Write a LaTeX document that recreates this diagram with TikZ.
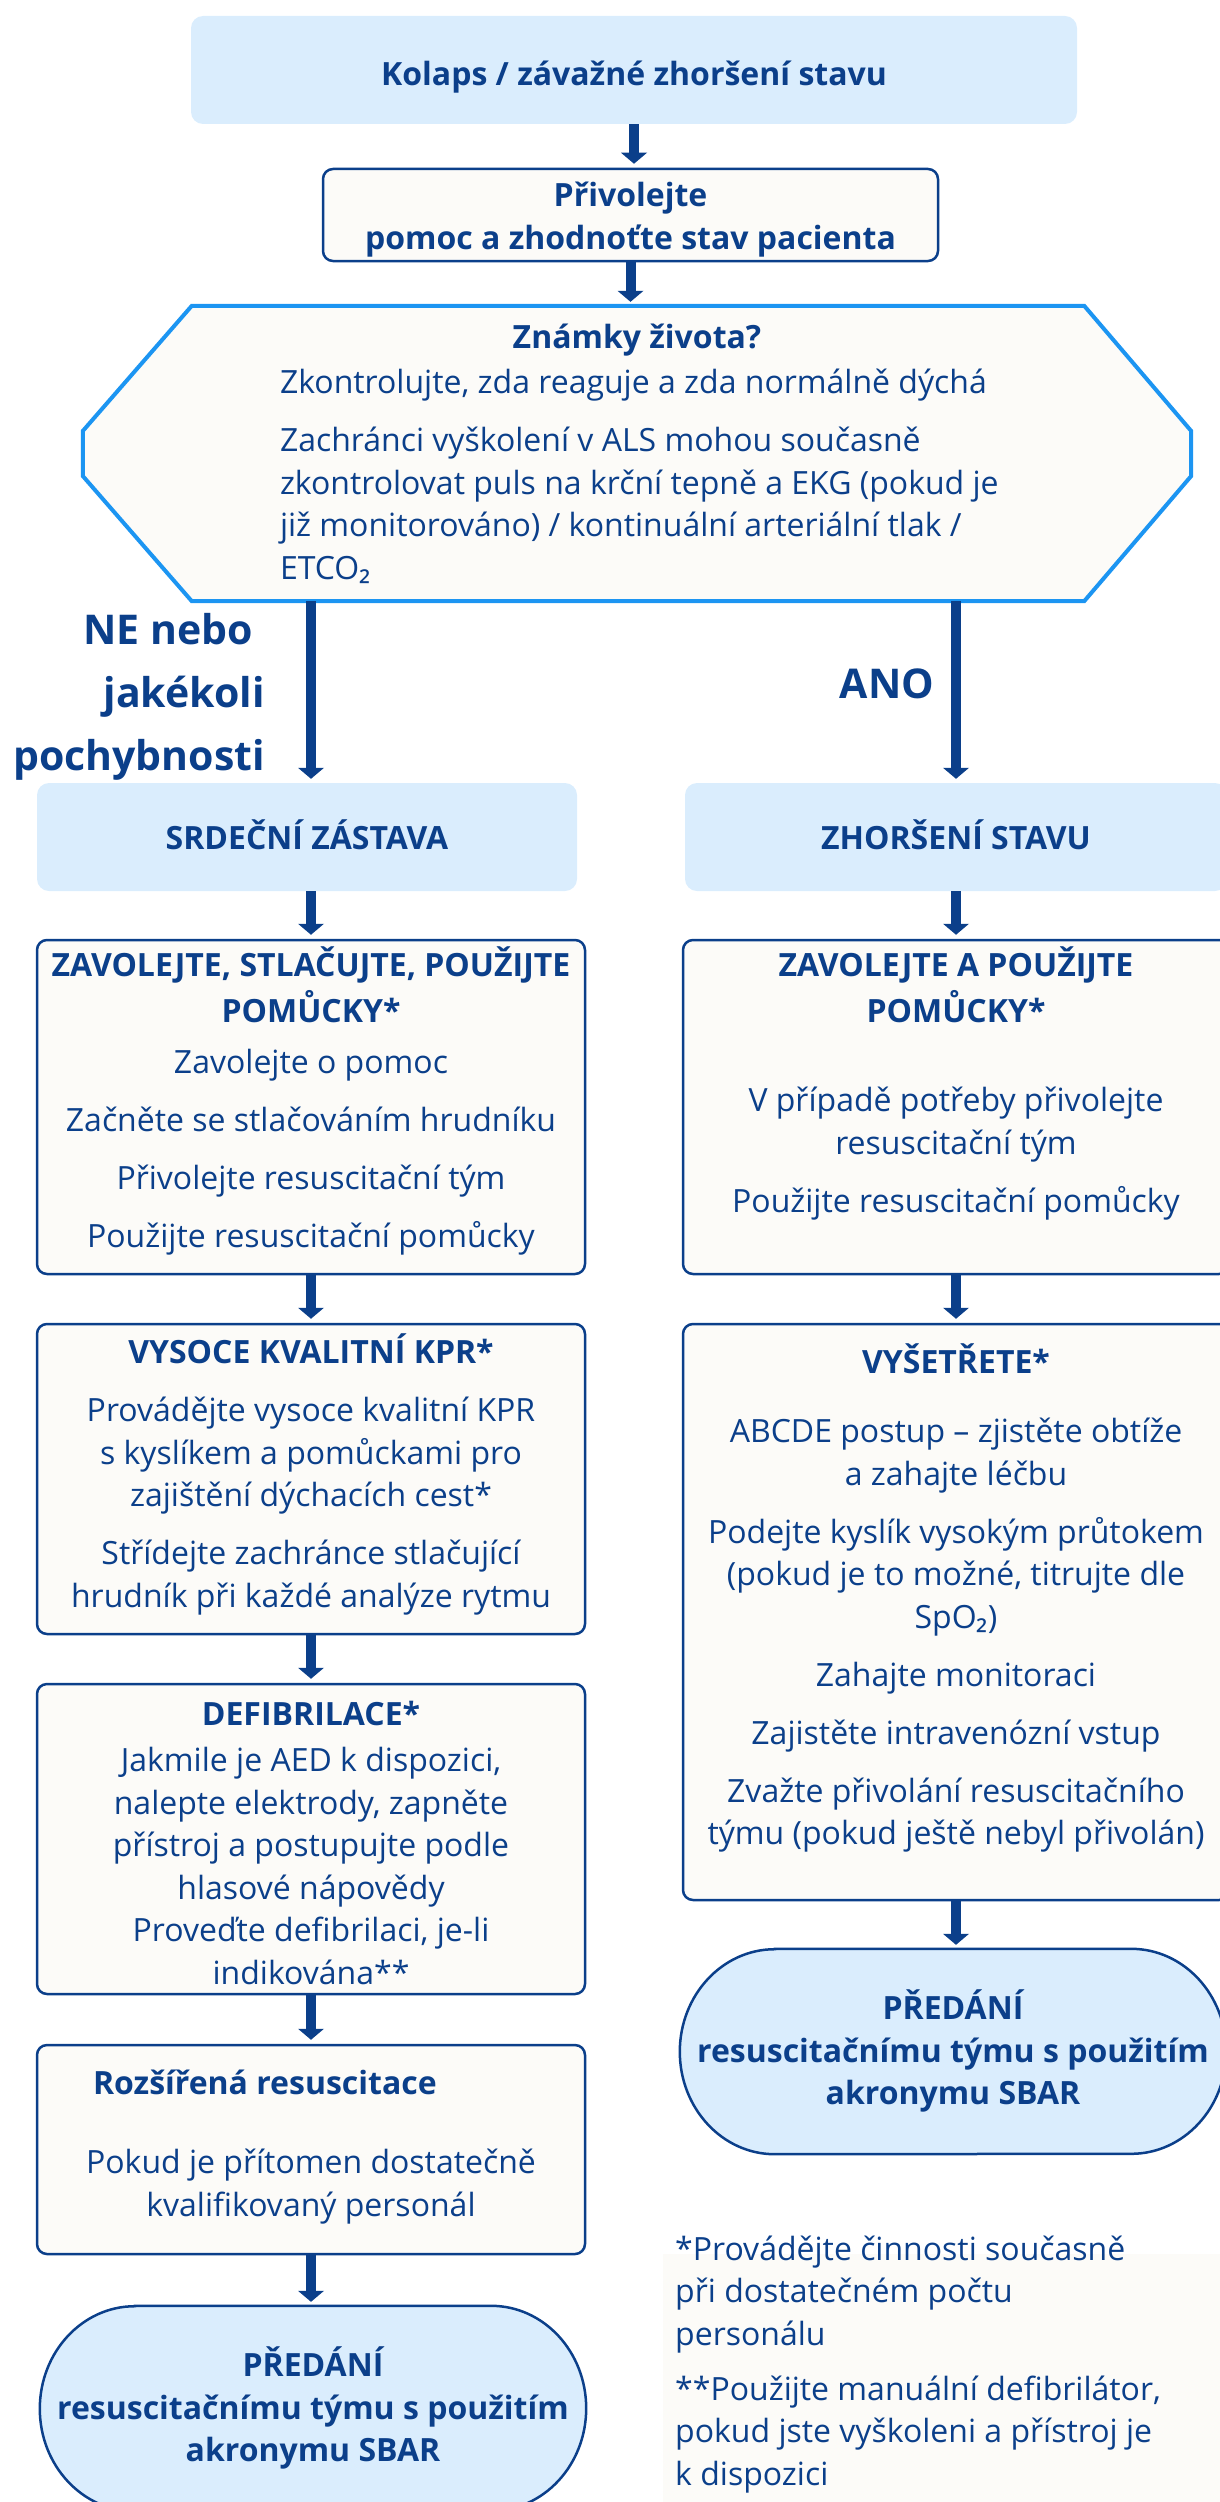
\documentclass[tikz,border=0pt]{standalone}
\usepackage{fontspec}
\setmainfont{Open Sans}
\newfontfamily\nsub{Noto Sans}
\newcommand\two{{\nsub ₂}}
\usetikzlibrary{arrows.meta,calc,backgrounds}
\definecolor{dblue}{HTML}{0B3F8A}
\definecolor{lblue}{HTML}{DAEDFD}
\definecolor{hexblue}{HTML}{1C95F2}
\definecolor{offw}{HTML}{FCFBF8}
\newcommand\fs{\fontsize{32}{42.5}\selectfont}
\newcommand\pg{\par\vspace{15.5pt}}
\newcommand\bxt[4]{\begin{minipage}[c][#1][t]{#2}\fs\centering\vspace*{#3}\strut #4\end{minipage}}
\tikzset{
  lbox/.style={fill=lblue, rounded corners=12pt, inner sep=0pt, text=dblue},
  wbox/.style={fill=offw, draw=dblue, line width=2.5pt, rounded corners=10pt, inner sep=0pt, text=dblue},
  plain/.style={inner sep=0pt, text=dblue},
  arr/.style={draw=dblue, line width=10pt, shorten >=4pt, -{Triangle[width=26pt,length=11pt,line width=0pt]}},
  hexline/.style={draw=hexblue, fill=offw, line width=4pt, line join=miter},
  pshape/.style={draw=dblue, fill=lblue, line width=2.5pt}
}
\begin{document}
\begin{tikzpicture}[x=1pt,y=-1pt]
\useasboundingbox (0,0) rectangle (1220,2502);
\fill[offw] (663,2254) rectangle (1220,2502);

\node[lbox] (top) at (634,70) {\bxt{108pt}{886pt}{40pt}{\bfseries Kolaps / závažné zhoršení stavu}};
\node[wbox] (call) at (630.5,215) {\bxt{92pt}{615pt}{8pt}{\bfseries Přivolejte\\pomoc a zhodnoťte stav pacienta}};

\node[plain] (hex) at (637,453.5) {\begin{minipage}[c][295pt][t]{1108pt}\fs\vspace*{13pt}\centering\strut\bfseries Známky života?\par
\mdseries\raggedright\leftskip=197pt\relax\vspace{2.5pt}Zkontrolujte, zda reaguje a zda normálně dýchá\par\vspace{15.5pt}
Zachránci vyškolení v ALS mohou současně\\
zkontrolovat puls na krční tepně a EKG (pokud je\\
již monitorováno) / kontinuální arteriální tlak /\\
ETCO\two\par\end{minipage}};
\begin{scope}[on background layer]
\draw[hexline] ($(hex.north west)+(109,0)$) -- ($(hex.north east)+(-107,0)$) -- ($(hex.east)+(0,-22.5)$) -- ($(hex.east)+(0,22.5)$) -- ($(hex.south east)+(-107,0)$) -- ($(hex.south west)+(109,0)$) -- ($(hex.west)+(0,22.5)$) -- ($(hex.west)+(0,-22.5)$) -- cycle;
\end{scope}

\node[plain, anchor=base east] (ne) at (265,644) {\begin{minipage}[t]{300pt}\fontsize{41}{63}\selectfont\bfseries\raggedleft NE nebo\rule{12pt}{0pt}\\ jakékoli\\ pochybnosti\end{minipage}};
\node[plain, anchor=base, font=\fontsize{41}{63}\selectfont\bfseries] (ano) at (887,698) {ANO};

\node[lbox] (sz) at (307,837) {\bxt{108pt}{540pt}{37pt}{\bfseries SRDEČNÍ ZÁSTAVA}};
\node[lbox] (zs) at (956,837) {\bxt{108pt}{542pt}{37pt}{\bfseries ZHORŠENÍ STAVU}};

\node[wbox] (zav) at (311,1107) {\bxt{334pt}{548pt}{7pt}{\bfseries ZAVOLEJTE, STLAČUJTE, POUŽIJTE\\ POMŮCKY*\par\vspace{8.5pt}\mdseries
Zavolejte o pomoc\pg Začněte se stlačováním hrudníku\pg Přivolejte resuscitační tým\pg Použijte resuscitační pomůcky}};
\node[wbox] (zava) at (956,1107) {\bxt{334pt}{546pt}{7pt}{\bfseries ZAVOLEJTE A POUŽIJTE\\ POMŮCKY*\par\vspace{46.5pt}\mdseries
V případě potřeby přivolejte\\ resuscitační tým\pg Použijte resuscitační pomůcky}};

\node[wbox] (vys) at (311,1479) {\bxt{310pt}{548pt}{10pt}{\bfseries VYSOCE KVALITNÍ KPR*\pg\mdseries
Provádějte vysoce kvalitní KPR\\ s kyslíkem a pomůckami pro\\ zajištění dýchacích cest*\pg Střídejte zachránce stlačující\\ hrudník při každé analýze rytmu}};
\node[wbox] (vyse) at (956,1612) {\bxt{576pt}{546pt}{20pt}{\bfseries VYŠETŘETE*\par\vspace{26.5pt}\mdseries
ABCDE postup – zjistěte obtíže\\ a zahajte léčbu\pg Podejte kyslík vysokým průtokem\\ (pokud je to možné, titrujte dle\\ SpO\two)\pg Zahajte monitoraci\pg Zajistěte intravenózní vstup\pg Zvažte přivolání resuscitačního\\ týmu (pokud ještě nebyl přivolán)}};

\node[wbox] (def) at (311,1839) {\bxt{310pt}{548pt}{12pt}{\bfseries DEFIBRILACE*\par\vspace{3.5pt}\mdseries
Jakmile je AED k dispozici,\\ nalepte elektrody, zapněte\\ přístroj a postupujte podle\\ hlasové nápovědy\\ Proveďte defibrilaci, je-li\\ indikována**}};

\node[wbox] (roz) at (311,2149.5) {\bxt{209pt}{548pt}{20pt}{\makebox[548pt][l]{\hspace{56pt}\bfseries Rozšířená resuscitace}\par\vspace{36.5pt}
Pokud je přítomen dostatečně\\ kvalifikovaný personál}};

\node[plain] (pr) at (953,2051.5) {\bxt{205pt}{546pt}{41pt}{\bfseries PŘEDÁNÍ\\ resuscitačnímu týmu s použitím\\ akronymu SBAR}};
\node[plain] (pl) at (313,2408.5) {\bxt{205pt}{546pt}{41pt}{\bfseries PŘEDÁNÍ\\ resuscitačnímu týmu s použitím\\ akronymu SBAR}};
\begin{scope}[on background layer]
\foreach \n in {pr,pl}{
\draw[pshape] ($(\n.north west)+(95,0)$) -- ($(\n.north east)+(-95,0)$) arc[start angle=90, end angle=-90, x radius=95pt, y radius=102.5pt] -- ($(\n.south west)+(95,0)$) arc[start angle=270, end angle=90, x radius=95pt, y radius=102.5pt] -- cycle;
}
\end{scope}

\node[plain, anchor=north west] (fn) at (675,2230.25) {\begin{minipage}[t]{545pt}\fs\raggedright\strut *Provádějte činnosti současně\\ při dostatečném počtu\\ personálu\par\vspace{12.5pt}
**Použijte manuální defibrilátor,\\ pokud jste vyškoleni a přístroj je\\ k dispozici\end{minipage}};

\draw[arr] (top.south) -- (top.south |- call.north);
\draw[arr] (call.south) -- (call.south |- hex.north);
\draw[arr] (hex.south -| zav.north) -- (sz.north -| zav.north);
\draw[arr] (hex.south -| zs.north) -- (zs.north);
\draw[arr] (zav.north |- sz.south) -- (zav.north);
\draw[arr] (zs.south) -- (zava.north);
\draw[arr] (zav.south) -- (vys.north);
\draw[arr] (vys.south) -- (def.north);
\draw[arr] (def.south) -- (roz.north);
\draw[arr] (roz.south) -- (roz.south |- pl.north);
\draw[arr] (zava.south) -- (vyse.north);
\draw[arr] (vyse.south) -- (vyse.south |- pr.north);
\end{tikzpicture}
\end{document}
